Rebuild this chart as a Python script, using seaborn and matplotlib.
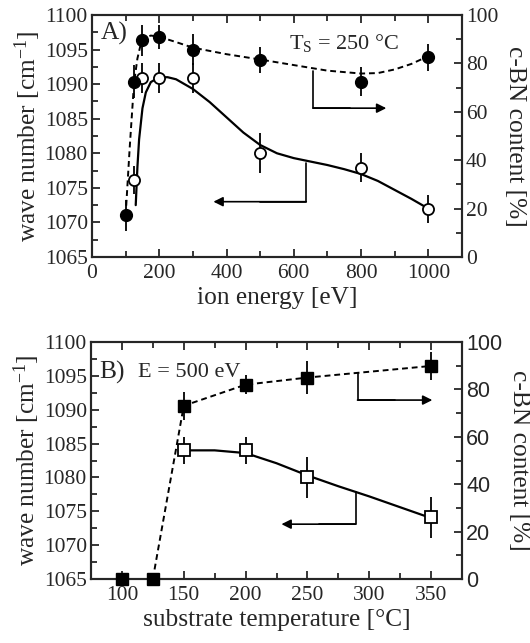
import matplotlib
matplotlib.use("Agg")
import matplotlib.pyplot as plt
import seaborn as sns
import pandas as pd
from matplotlib.ticker import MultipleLocator

# ---------------- data: panel A (ion energy) ----------------
energy_open = [125, 150, 200, 300, 500, 800, 1000]
wavenum_A = [1076.1, 1090.9, 1090.9, 1090.9, 1080.0, 1077.9, 1071.9]
wavenum_A_err = [2.0, 2.2, 2.2, 2.2, 2.9, 2.1, 2.0]

energy_filled = [100, 125, 150, 200, 300, 500, 800, 1000]
cbn_A = [17.2, 72.5, 89.5, 91.0, 85.7, 81.4, 72.5, 82.5]
cbn_A_err = [6.5, 7.0, 6.5, 5.0, 6.5, 5.5, 6.0, 5.5]

# guide curves
curveA_solid_x = [130, 135, 140, 150, 160, 175, 200, 225, 250, 300, 350, 400, 450, 500, 550, 600, 650, 700, 750, 800, 850, 900, 950, 1000]
curveA_solid_y = [1072.5, 1078.0, 1082.0, 1086.5, 1088.8, 1090.3, 1091.0, 1091.0, 1090.7, 1089.3, 1087.4, 1085.2, 1083.0, 1081.2, 1080.0, 1079.3, 1078.8, 1078.3, 1077.7, 1077.0, 1076.0, 1074.7, 1073.4, 1072.0]
curveA_dash_x = [100, 112, 125, 135, 145, 155, 175, 200, 250, 300, 400, 500, 600, 700, 800, 850, 900, 950, 1000]
curveA_dash_y = [17.2, 45.0, 72.0, 82.0, 88.0, 90.5, 91.5, 91.0, 88.8, 86.5, 83.8, 81.6, 79.3, 77.0, 75.8, 76.0, 77.5, 79.8, 83.0]

# ---------------- data: panel B (substrate temperature) ----------------
temp_open = [150, 200, 250, 350]
wavenum_B = [1084.0, 1084.0, 1080.0, 1074.1]
wavenum_B_err = [2.0, 2.0, 3.0, 3.0]

temp_filled = [100, 125, 150, 200, 250, 350]
cbn_B = [0.0, 0.0, 73.1, 82.0, 85.0, 89.9]
cbn_B_err = [0.0, 0.0, 6.0, 4.0, 7.0, 6.0]

curveB_solid_x = [150, 175, 200, 225, 250, 275, 300, 325, 350]
curveB_solid_y = [1084.0, 1084.0, 1083.6, 1082.1, 1080.3, 1078.7, 1077.2, 1075.6, 1074.0]
curveB_dash_x = [125, 150, 200, 250, 350]
curveB_dash_y = [0.0, 73.1, 82.0, 85.0, 89.9]

# arrows (vertical start, bend, horizontal end) in data coords
arrowA_right = dict(x=657, y0=77.0, y1=61.5, x_end=875)      # right axis units
arrowA_left = dict(x=637, y0=1078.6, y1=1073.0, x_end=361)   # left axis units
arrowB_right = dict(x=290.5, y0=86.8, y1=75.5, x_end=351)
arrowB_left = dict(x=289, y0=1077.8, y1=1073.1, x_end=229)

# ---------------- style ----------------
sns.set_style("ticks")
plt.rcParams["font.family"] = ["Liberation Serif", "DejaVu Serif"]
plt.rcParams["mathtext.fontset"] = "custom"
plt.rcParams["mathtext.rm"] = "Liberation Serif"
plt.rcParams["mathtext.it"] = "Liberation Serif"
plt.rcParams["mathtext.default"] = "regular"
plt.rcParams["xtick.direction"] = "in"
plt.rcParams["ytick.direction"] = "in"
plt.rcParams["axes.linewidth"] = 1.5

TICK_FS = 15.5
LAB_FS = 18.3

fig = plt.figure(figsize=(5.3, 6.43), dpi=100)
axA = fig.add_axes([0.1736, 0.6003, 0.698, 0.3764])
axB = fig.add_axes([0.1717, 0.0995, 0.700, 0.3686])


def setup(ax, ax2, xlim, xmaj, xmin_, right_font):
    ax.set_xlim(*xlim)
    ax.set_ylim(1065, 1100)
    ax2.set_ylim(0, 100)
    ax.xaxis.set_major_locator(MultipleLocator(xmaj))
    ax.xaxis.set_minor_locator(MultipleLocator(xmin_))
    ax.yaxis.set_major_locator(MultipleLocator(5))
    ax.yaxis.set_minor_locator(MultipleLocator(2.5))
    ax2.yaxis.set_major_locator(MultipleLocator(20))
    ax2.yaxis.set_minor_locator(MultipleLocator(10))
    ax.tick_params(axis="x", which="both", top=True, bottom=True, direction="in",
                   width=1.3, labelsize=TICK_FS, pad=5)
    ax.tick_params(axis="x", which="major", length=6)
    ax.tick_params(axis="x", which="minor", length=4)
    ax.tick_params(axis="y", which="both", left=True, right=False, direction="in",
                   width=1.3, labelsize=TICK_FS, pad=3)
    ax.tick_params(axis="y", which="major", length=6)
    ax.tick_params(axis="y", which="minor", length=4)
    ax2.tick_params(axis="y", which="both", right=True, direction="in",
                    width=1.3, labelsize=TICK_FS, pad=3)
    ax2.tick_params(axis="y", which="major", length=6)
    ax2.tick_params(axis="y", which="minor", length=4)
    for lab in ax2.get_yticklabels():
        lab.set_family(right_font)
    for sp in ax2.spines.values():
        sp.set_linewidth(1.5)
    ax.set_ylabel("wave number [cm$^{-1}$]", fontsize=LAB_FS, labelpad=1)
    ax2.set_ylabel("c-BN content [%]", fontsize=LAB_FS, rotation=270, labelpad=20)


def arrow(ax, a):
    ax.plot([a["x"], a["x"], a["x"] + (a["x_end"] - a["x"]) * 0.5],
            [a["y0"], a["y1"], a["y1"]], color="black", lw=1.2)
    ax.annotate("", xy=(a["x_end"], a["y1"]), xytext=(a["x"], a["y1"]),
                arrowprops=dict(arrowstyle="-|>", color="black", lw=1.2,
                                mutation_scale=14, shrinkA=0, shrinkB=0))


# ---------------- panel A ----------------
axA2 = axA.twinx()
dfA_solid = pd.DataFrame({"x": curveA_solid_x, "y": curveA_solid_y})
dfA_dash = pd.DataFrame({"x": curveA_dash_x, "y": curveA_dash_y})
sns.lineplot(data=dfA_solid, x="x", y="y", ax=axA, color="black", lw=1.6, sort=False)
sns.lineplot(data=dfA_dash, x="x", y="y", ax=axA2, color="black", lw=1.4, sort=False,
             linestyle=(0, (3, 2)))
axA.errorbar(energy_open, wavenum_A, yerr=wavenum_A_err, fmt="none", ecolor="black",
             elinewidth=1.3, capsize=0, zorder=3)
axA.plot(energy_open, wavenum_A, "o", ms=8, mfc="white", mec="black", mew=1.3,
         zorder=4, clip_on=False)
axA2.errorbar(energy_filled, cbn_A, yerr=cbn_A_err, fmt="none", ecolor="black",
              elinewidth=1.3, capsize=0, zorder=3)
axA2.plot(energy_filled, cbn_A, "o", ms=8.5, mfc="black", mec="black", zorder=4,
          clip_on=False)
setup(axA, axA2, (0, 1100), 200, 100, "Liberation Serif")
axA.set_xlabel("ion energy [eV]", fontsize=LAB_FS, labelpad=3)
arrow(axA2, arrowA_right)
arrow(axA, arrowA_left)
axA.text(25, 1097.3, "A)", fontsize=LAB_FS, ha="left", va="center")
axA.text(585, 1096.0, "T$_\\mathregular{S}$ = 250 °C", fontsize=TICK_FS + 0.5,
         ha="left", va="center")

# ---------------- panel B ----------------
axB2 = axB.twinx()
dfB_solid = pd.DataFrame({"x": curveB_solid_x, "y": curveB_solid_y})
dfB_dash = pd.DataFrame({"x": curveB_dash_x, "y": curveB_dash_y})
sns.lineplot(data=dfB_solid, x="x", y="y", ax=axB, color="black", lw=1.6, sort=False)
sns.lineplot(data=dfB_dash, x="x", y="y", ax=axB2, color="black", lw=1.4, sort=False,
             linestyle=(0, (3, 2)))
axB.errorbar(temp_open, wavenum_B, yerr=wavenum_B_err, fmt="none", ecolor="black",
             elinewidth=1.3, capsize=0, zorder=3)
axB.plot(temp_open, wavenum_B, "s", ms=8, mfc="white", mec="black", mew=1.3, zorder=4,
         clip_on=False)
axB2.errorbar(temp_filled, cbn_B, yerr=cbn_B_err, fmt="none", ecolor="black",
              elinewidth=1.3, capsize=0, zorder=3)
axB2.plot(temp_filled, cbn_B, "s", ms=8, mfc="black", mec="black", zorder=4,
          clip_on=False)
setup(axB, axB2, (75, 375), 50, 25, "Liberation Sans")
axB.set_xlabel("substrate temperature [°C]", fontsize=LAB_FS, labelpad=3)
arrow(axB2, arrowB_right)
arrow(axB, arrowB_left)
axB.text(82, 1095.5, "B)", fontsize=LAB_FS, ha="left", va="center")
axB.text(113, 1095.5, "E = 500 eV", fontsize=TICK_FS + 0.5, ha="left", va="center")

for a in (axA, axB, axA2, axB2):
    a.patch.set_visible(False)

fig.savefig("out.png", dpi=100)
